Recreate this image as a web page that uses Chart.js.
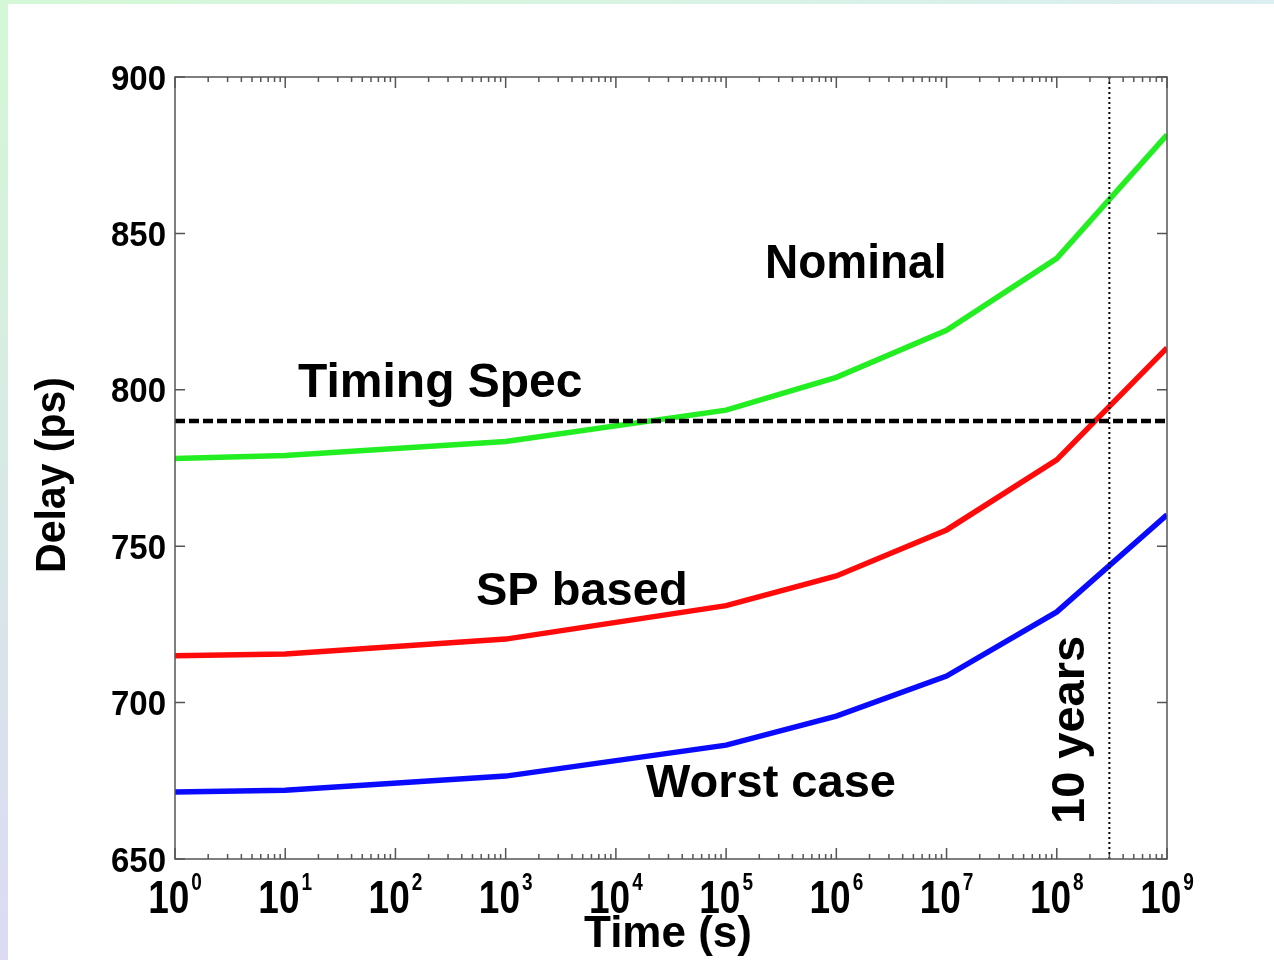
<!DOCTYPE html>
<html>
<head>
<meta charset="utf-8">
<script src="https://cdn.jsdelivr.net/npm/chart.js@4"></script>
<style>
  html, body { margin: 0; padding: 0; background: #fff; }
  canvas { display: block; }
</style>
</head>
<body>
<canvas id="chart" width="1274" height="960"></canvas>
<script>
// time points (s) and delay values (ps)
const times = [1, 10, 1e3, 1e5, 1e6, 1e7, 1e8, 1e9];
const nominal = [778, 779, 783.5, 793.5, 804, 819, 842, 881.5];
const spBased = [715, 715.5, 720.3, 731, 740.5, 755.2, 777.6, 813.4];
const worstCase = [671.4, 672, 676.5, 686.4, 695.7, 708.5, 729, 760];
const timingSpec = 790;
const tenYears = 3e8;
const yTicks = [650, 700, 750, 800, 850, 900];
const xDecades = [0, 1, 2, 3, 4, 5, 6, 7, 8, 9];

const FONT = '"Liberation Sans", Arial, Helvetica, sans-serif';

function pts(ys) {
  return times.map((t, i) => ({x: t, y: ys[i]}));
}

function txt(ctx, s, x, y, size, sy, align) {
  ctx.save();
  ctx.translate(x, y);
  ctx.scale(1, sy);
  ctx.font = "bold " + size + "px " + FONT;
  ctx.textAlign = align || "left";
  ctx.textBaseline = "alphabetic";
  ctx.fillText(s, 0, 0);
  ctx.restore();
}

const frame = {
  id: "frame",
  beforeDraw(chart) {
    const ctx = chart.ctx;
    ctx.save();
    ctx.fillStyle = "#fff";
    ctx.fillRect(0, 0, chart.width, chart.height);
    const g = ctx.createLinearGradient(0, 0, 0, chart.height);
    g.addColorStop(0, "#d4f8d6");
    g.addColorStop(1, "#dcdaf4");
    ctx.fillStyle = g;
    ctx.fillRect(0, 0, 8, chart.height);
    const g2 = ctx.createLinearGradient(0, 0, chart.width, 0);
    g2.addColorStop(0, "#d4f8d6");
    g2.addColorStop(1, "#dbeef0");
    ctx.fillStyle = g2;
    ctx.fillRect(0, 0, chart.width, 4);
    ctx.restore();
  },
  afterDraw(chart) {
    const ctx = chart.ctx;
    const a = chart.chartArea;
    const xs = chart.scales.x, ys = chart.scales.y;
    ctx.save();
    ctx.strokeStyle = "#555";
    ctx.lineWidth = 1.5;
    ctx.strokeRect(a.left, a.top, a.right - a.left, a.bottom - a.top);

    // y ticks, inward on both sides
    ctx.beginPath();
    yTicks.forEach(v => {
      const py = ys.getPixelForValue(v);
      ctx.moveTo(a.left, py); ctx.lineTo(a.left + 10, py);
      ctx.moveTo(a.right, py); ctx.lineTo(a.right - 10, py);
    });
    // x ticks, major and minor, top and bottom
    xDecades.forEach(d => {
      for (let m = 1; m <= 9; m++) {
        const v = m * Math.pow(10, d);
        if (v > 1e9) break;
        const px = xs.getPixelForValue(v);
        const len = m === 1 ? 11 : 5;
        ctx.moveTo(px, a.bottom); ctx.lineTo(px, a.bottom - len);
        ctx.moveTo(px, a.top); ctx.lineTo(px, a.top + len);
      }
    });
    ctx.stroke();

    ctx.fillStyle = "#000";
    // y tick labels
    yTicks.forEach(v => {
      const py = ys.getPixelForValue(v);
      txt(ctx, String(v), 166, py + 12.5, 33, 1.08, "right");
    });
    // x tick labels: 10 with superscript exponent
    xDecades.forEach(d => {
      const px = xs.getPixelForValue(Math.pow(10, d));
      ctx.font = "bold 37px " + FONT;
      const wb = ctx.measureText("10").width;
      ctx.font = "bold 19px " + FONT;
      const we = ctx.measureText(String(d)).width;
      const left = px - (wb + 2 + we) / 2;
      txt(ctx, "10", left, 913, 37, 1.24, "left");
      txt(ctx, String(d), left + wb + 2, 890, 19, 1.25, "left");
    });

    // axis titles
    txt(ctx, "Time (s)", 668, 947, 44, 1.0, "center");
    ctx.save();
    ctx.translate(65, 475);
    ctx.rotate(-Math.PI / 2);
    txt(ctx, "Delay (ps)", 0, 0, 41, 1.05, "center");
    ctx.restore();

    // annotations
    txt(ctx, "Nominal", 765, 278, 46, 1.05, "left");
    txt(ctx, "Timing Spec", 298, 397, 48, 1.0, "left");
    txt(ctx, "SP based", 476, 605, 47, 1.0, "left");
    txt(ctx, "Worst case", 646, 797, 47, 1.0, "left");
    ctx.save();
    ctx.translate(1084, 824);
    ctx.rotate(-Math.PI / 2);
    txt(ctx, "10 years", 0, 0, 47, 1.0, "left");
    ctx.restore();
    ctx.restore();
  }
};

new Chart(document.getElementById("chart"), {
  type: "line",
  data: {
    datasets: [
      {
        data: [{x: 1, y: timingSpec}, {x: 1e9, y: timingSpec}],
        borderColor: "#000",
        borderWidth: 4.5,
        borderDash: [10, 4],
      },
      {
        data: [{x: tenYears, y: 650}, {x: tenYears, y: 900}],
        borderColor: "#000",
        borderWidth: 2,
        borderDash: [2, 3],
      },
      {data: pts(nominal), borderColor: "#22ee22", borderWidth: 5.5},
      {data: pts(spBased), borderColor: "#ff0a0a", borderWidth: 5.5},
      {data: pts(worstCase), borderColor: "#0a0aff", borderWidth: 5.5},
    ],
  },
  options: {
    responsive: false,
    animation: false,
    layout: {padding: {left: 175, top: 77, right: 107, bottom: 101}},
    elements: {point: {radius: 0}, line: {tension: 0, borderCapStyle: "butt"}},
    plugins: {legend: {display: false}, tooltip: {enabled: false}},
    scales: {
      x: {type: "logarithmic", min: 1, max: 1e9, display: false},
      y: {type: "linear", min: 650, max: 900, display: false},
    },
  },
  plugins: [frame],
});
</script>
</body>
</html>
